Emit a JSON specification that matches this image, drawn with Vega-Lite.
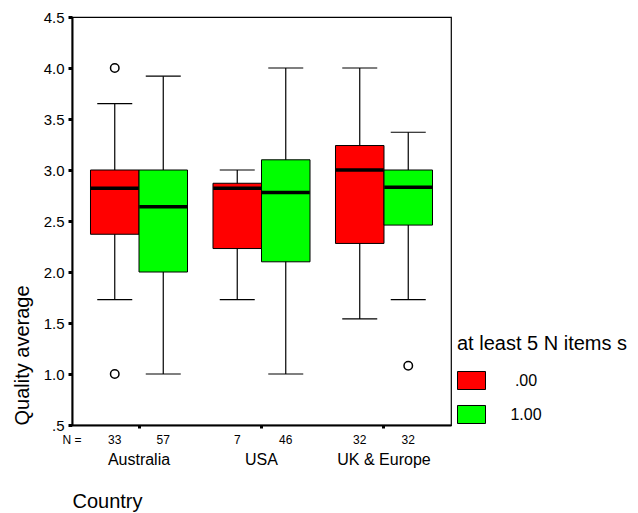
{
  "$schema": "https://vega.github.io/schema/vega-lite/v6.json",
  "autosize": {"type": "none"},
  "width": 379,
  "height": 408,
  "padding": {"left": 72, "top": 17, "right": 187, "bottom": 88},
  "background": "white",
  "config": {
    "font": "Liberation Sans",
    "view": {"stroke": "black", "strokeWidth": 1.2},
    "axis": {"labelColor": "black", "titleColor": "black", "domainColor": "black", "tickColor": "black", "titleFontWeight": "normal", "grid": false}
  },
  "datasets": {
    "boxes": [
      {"country": "Australia", "group": ".00", "lower": 1.73, "q1": 2.37, "median": 2.82, "q3": 3.0, "upper": 3.65, "n": "33"},
      {"country": "Australia", "group": "1.00", "lower": 1.0, "q1": 2.0, "median": 2.64, "q3": 3.0, "upper": 3.92, "n": "57"},
      {"country": "USA", "group": ".00", "lower": 1.73, "q1": 2.23, "median": 2.82, "q3": 2.87, "upper": 3.0, "n": "7"},
      {"country": "USA", "group": "1.00", "lower": 1.0, "q1": 2.1, "median": 2.78, "q3": 3.1, "upper": 4.0, "n": "46"},
      {"country": "UK & Europe", "group": ".00", "lower": 1.54, "q1": 2.28, "median": 3.0, "q3": 3.24, "upper": 4.0, "n": "32"},
      {"country": "UK & Europe", "group": "1.00", "lower": 1.73, "q1": 2.46, "median": 2.83, "q3": 3.0, "upper": 3.37, "n": "32"}
    ],
    "outliers": [
      {"country": "Australia", "group": ".00", "value": 4.0},
      {"country": "Australia", "group": ".00", "value": 1.0},
      {"country": "UK & Europe", "group": "1.00", "value": 1.08}
    ],
    "nlabel": [{"label": "N ="}]
  },
  "layer": [
    {
      "data": {"name": "boxes"},
      "mark": {"type": "rule", "color": "black", "strokeWidth": 1.2, "opacity": 1},
      "encoding": {
        "x": {
          "field": "country", "type": "nominal", "sort": null,
          "scale": {"domain": ["Australia", "USA", "UK & Europe"], "paddingInner": 0.208, "paddingOuter": 0.151},
          "axis": {
            "title": "Country", "labelFontSize": 16, "labelAngle": 0, "labelPadding": 23,
            "tickSize": 3, "tickWidth": 3, "domainWidth": 2,
            "titleFontSize": 20, "titleX": 0, "titleY": 76, "titleAlign": "left", "titleAnchor": "start", "titleBaseline": "middle"
          }
        },
        "xOffset": {"field": "group", "type": "nominal", "scale": {"domain": [".00", "1.00"], "paddingInner": 0, "paddingOuter": 0}},
        "y": {
          "field": "lower", "type": "quantitative",
          "scale": {"domain": [0.5, 4.5], "nice": false, "zero": false},
          "axis": {
            "title": "Quality average", "values": [0.5, 1, 1.5, 2, 2.5, 3, 3.5, 4, 4.5],
            "labelExpr": "datum.value == 0.5 ? '.5' : format(datum.value, '.1f')",
            "labelFontSize": 15, "labelPadding": 4, "tickSize": 4, "tickWidth": 3, "domainWidth": 2,
            "titleFontSize": 20, "titleX": -50, "titleY": 408, "titleAlign": "left", "titleAngle": -90, "titleBaseline": "middle", "titleAnchor": null
          }
        },
        "y2": {"field": "upper"}
      }
    },
    {
      "data": {"name": "boxes"},
      "mark": {"type": "tick", "color": "black", "size": 35, "thickness": 1.2, "opacity": 1},
      "encoding": {
        "x": {"field": "country", "type": "nominal", "sort": null},
        "xOffset": {"field": "group", "type": "nominal"},
        "y": {"field": "lower", "type": "quantitative"}
      }
    },
    {
      "data": {"name": "boxes"},
      "mark": {"type": "tick", "color": "black", "size": 35, "thickness": 1.2, "opacity": 1},
      "encoding": {
        "x": {"field": "country", "type": "nominal", "sort": null},
        "xOffset": {"field": "group", "type": "nominal"},
        "y": {"field": "upper", "type": "quantitative"}
      }
    },
    {
      "data": {"name": "boxes"},
      "mark": {"type": "bar", "stroke": "black", "strokeWidth": 1, "opacity": 1},
      "encoding": {
        "x": {"field": "country", "type": "nominal", "sort": null},
        "xOffset": {"field": "group", "type": "nominal"},
        "y": {"field": "q1", "type": "quantitative"},
        "y2": {"field": "q3"},
        "fill": {
          "field": "group", "type": "nominal",
          "scale": {"domain": [".00", "1.00"], "range": ["#ff0000", "#00ff00"]},
          "legend": {
            "title": "at least 5 N items s", "orient": "none", "legendX": 385, "legendY": 317,
            "titleFontSize": 20, "titleFontWeight": "normal", "titleColor": "black", "titleLimit": 400, "titlePadding": 12,
            "labelFontSize": 16, "labelColor": "black", "labelAlign": "center", "labelOffset": 40,
            "symbolType": "M-1,-0.643L1,-0.643L1,0.643L-1,0.643Z", "symbolSize": 784,
            "symbolStrokeColor": "black", "symbolStrokeWidth": 1, "symbolOpacity": 1, "rowPadding": 8
          }
        }
      }
    },
    {
      "data": {"name": "boxes"},
      "mark": {"type": "tick", "color": "black", "size": 48, "thickness": 3.5, "opacity": 1},
      "encoding": {
        "x": {"field": "country", "type": "nominal", "sort": null},
        "xOffset": {"field": "group", "type": "nominal"},
        "y": {"field": "median", "type": "quantitative"}
      }
    },
    {
      "data": {"name": "outliers"},
      "mark": {"type": "point", "shape": "circle", "filled": false, "stroke": "black", "strokeWidth": 1.5, "size": 72, "opacity": 1},
      "encoding": {
        "x": {"field": "country", "type": "nominal", "sort": null},
        "xOffset": {"field": "group", "type": "nominal"},
        "y": {"field": "value", "type": "quantitative"}
      }
    },
    {
      "data": {"name": "boxes"},
      "mark": {"type": "text", "fontSize": 12, "color": "black", "baseline": "alphabetic", "dy": 19, "clip": false},
      "encoding": {
        "x": {"field": "country", "type": "nominal", "sort": null},
        "xOffset": {"field": "group", "type": "nominal"},
        "y": {"value": "height"},
        "text": {"field": "n"}
      }
    },
    {
      "data": {"name": "nlabel"},
      "mark": {"type": "text", "fontSize": 12, "color": "black", "baseline": "alphabetic", "align": "center", "dy": 19, "clip": false},
      "encoding": {
        "x": {"value": 0},
        "y": {"value": "height"},
        "text": {"field": "label"}
      }
    }
  ]
}
